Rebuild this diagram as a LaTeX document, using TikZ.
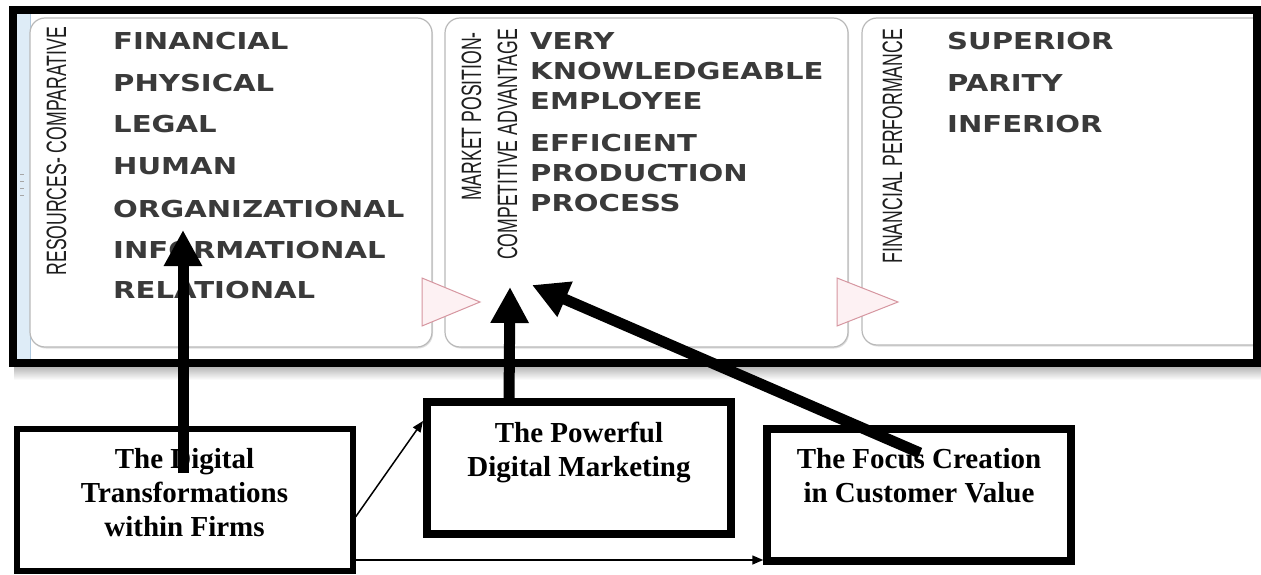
\documentclass[tikz,border=0pt]{standalone}
\usepackage{fontspec}
\setmainfont{Liberation Serif}
\newfontfamily\itemfont[FakeStretch=1.25]{DejaVu Sans}
\newfontfamily\titlefont[FakeStretch=0.63]{Liberation Sans}
\usetikzlibrary{arrows.meta,shadows,calc}
\definecolor{stripblue}{RGB}{222,236,247}
\definecolor{stripline}{RGB}{175,200,222}
\definecolor{panelline}{RGB}{185,185,185}
\definecolor{trianglefill}{RGB}{253,241,243}
\definecolor{triangleline}{RGB}{214,150,160}
\definecolor{itemgray}{RGB}{58,58,58}
\definecolor{titlegray}{RGB}{30,30,30}
\begin{document}
\begin{tikzpicture}[x=1pt,y=-1pt,
  panel/.style={draw=panelline, line width=1.2pt, fill=white, rounded corners=15pt,
    drop shadow={shadow xshift=1pt, shadow yshift=-1.5pt, opacity=0.25}},
  tri/.style={draw=triangleline, fill=trianglefill, line width=1pt, line join=miter},
  title/.style={rotate=90, inner sep=0pt, text=titlegray,
    font=\titlefont\fontsize{28}{30}\selectfont},
  item/.style={anchor=base west, inner sep=0pt, text=itemgray,
    font=\itemfont\bfseries\fontsize{23.3}{28}\selectfont},
  fbox/.style={draw=black, fill=white, inner sep=0pt},
  fboxtext/.style={anchor=north, inner sep=0pt, align=center,
    font=\bfseries\fontsize{29}{34}\selectfont},
  bigarrow/.style={draw=black, line width=11pt, -{Triangle[width=36pt,length=36pt]}},
  thinarrow/.style={draw=black, line width=1.5pt, -{Triangle[width=9pt,length=11pt]}}
]
\useasboundingbox (0,0) rectangle (1261,575);
\fill[white] (0,0) rectangle (1261,575);

% grip strip on the left of the panel row
\fill[stripblue] (14,14) rectangle (30,359);
\draw[stripline, line width=1pt] (30,14) -- (30,359);
\foreach \yy in {174,181,188,195}
  \draw[gray!70, line width=1pt] (20,\yy) -- (24,\yy);

% the three rounded panels
\node[panel, minimum width=402pt, minimum height=329pt] (p1) at (231,182.5) {};
\node[panel, minimum width=403pt, minimum height=329pt] (p2) at (646.5,182.5) {};
\node[panel, minimum width=413pt, minimum height=327pt] (p3) at (1068.5,181.5) {};

% chevrons between the panels
\draw[tri] (422,278) -- (422,326) -- (480,302) -- cycle;
\draw[tri] (837,278) -- (837,326) -- (898,302) -- cycle;

% rotated panel titles
\node[title, anchor=base east] (r1) at (66,27) {RESOURCES- COMPARATIVE};
\node[title, anchor=base east] (r2a) at (481,32) {MARKET POSITION-};
\node[title, anchor=base east] (r2b) at (517,29) {COMPETITIVE ADVANTAGE};
\node[title, anchor=base east] (r3) at (902,29) {FINANCIAL PERFORMANCE};

% resources
\node[item] (i11) at (113,50) {FINANCIAL};
\node[item] (i12) at (113,91.5) {PHYSICAL};
\node[item] (i13) at (113,133) {LEGAL};
\node[item] (i14) at (113,175) {HUMAN};
\node[item] (i15) at (113,217) {ORGANIZATIONAL};
\node[item] (i16) at (113,258) {INFORMATIONAL};
\node[item] (i17) at (113,298) {RELATIONAL};

% market position
\node[item] (i21) at (530,50) {VERY};
\node[item] (i22) at (530,80) {KNOWLEDGEABLE};
\node[item] (i23) at (530,110) {EMPLOYEE};
\node[item] (i24) at (530,152) {EFFICIENT};
\node[item] (i25) at (530,182) {PRODUCTION};
\node[item] (i26) at (530,211) {PROCESS};

% financial performance
\node[item] (i31) at (947,50) {SUPERIOR};
\node[item] (i32) at (947,92) {PARITY};
\node[item] (i33) at (947,133) {INFERIOR};

% heavy outer frame and its shadow
\shade[top color=gray!55, bottom color=white] (14,367) rectangle (1261,380);
\draw[line width=8pt] (12.5,10) rectangle (1257,363);

% lower boxes
\node[fbox, line width=6pt, minimum width=336pt, minimum height=141.5pt] (b1) at (184.5,499.75) {};
\node[fbox, line width=8pt, minimum width=304pt, minimum height=132pt] (b2) at (579,468) {};
\node[fbox, line width=8pt, minimum width=303.5pt, minimum height=132pt] (b3) at (919,494.5) {};

\node[fboxtext] (t1) at (184.5,448) {The Digital\\Transformations\\within Firms};
\node[fboxtext] (t2) at (579,422) {The Powerful\\Digital Marketing};
\node[fboxtext] (t3) at (919,448) {The Focus Creation\\in Customer Value};

% thin links between the lower boxes
\draw[thinarrow] (b1.east |- 0,517) -- (b2.west |- 0,421);
\draw[thinarrow] (b1.east |- 0,560) -- (b3.west |- 0,560);

% heavy arrows up into the panels
\coordinate (s1) at (183,473);
\coordinate (e1) at (183,230);
\coordinate (s2) at (509,400);
\coordinate (e2) at (510,287);
\coordinate (s3) at (920,453);
\coordinate (e3) at (532,285);
\draw[bigarrow] (s1) -- (e1);
\draw[bigarrow] (s2) -- (e2);
\draw[bigarrow] (s3) -- (e3);
\end{tikzpicture}
\end{document}
